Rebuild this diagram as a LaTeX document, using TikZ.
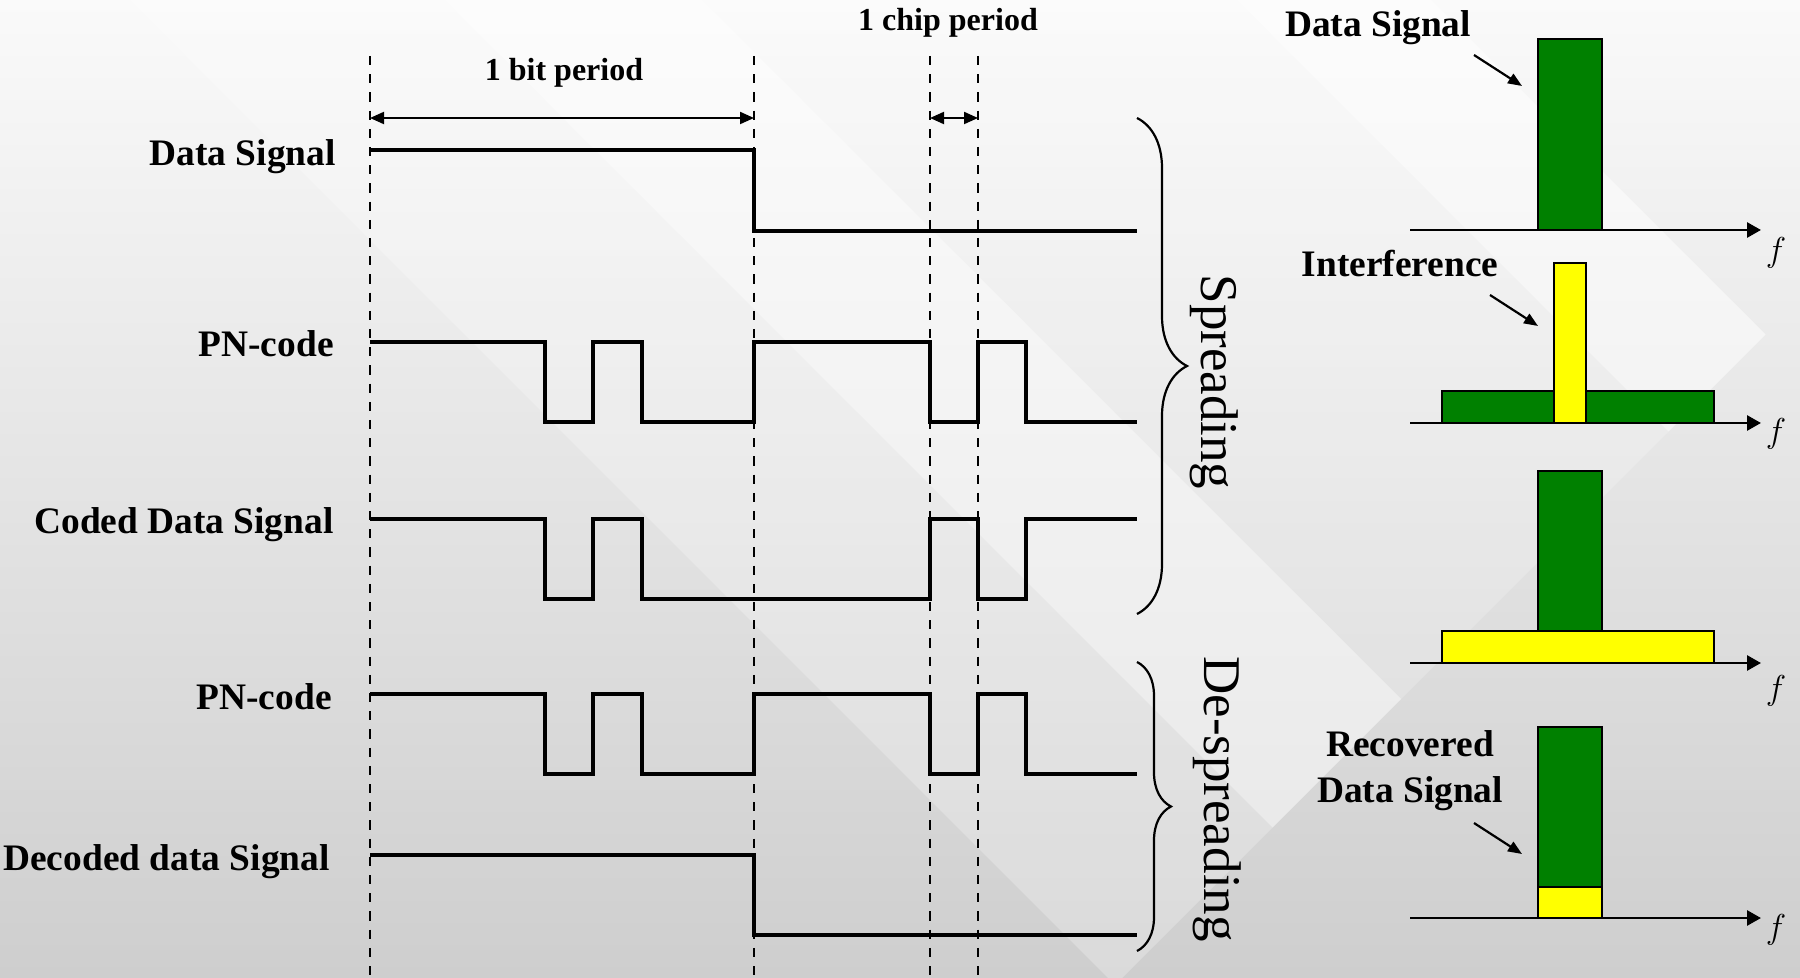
\documentclass[tikz,border=0pt]{standalone}
\usepackage{fontspec}
\setmainfont{Liberation Serif}
\usetikzlibrary{arrows.meta,positioning,decorations.pathreplacing}
\definecolor{sgreen}{RGB}{0,128,0}
\definecolor{syellow}{RGB}{255,255,0}
\definecolor{bgtop}{RGB}{250,250,250}
\definecolor{bgbot}{RGB}{206,206,206}

\begin{document}
\begin{tikzpicture}[
  x=0.5pt, y=0.5pt,
  wave/.style={line width=1.9pt, line join=miter},
  guide/.style={line width=1.2pt, dash pattern=on 4.6pt off 4.5pt},
  span/.style={{Triangle[length=7pt,width=6pt]}-{Triangle[length=7pt,width=6pt]}, line width=1pt},
  lbl/.style={font=\bfseries\fontsize{18.7}{21}\selectfont, inner sep=0pt},
  tag/.style={font=\bfseries\fontsize{16}{18}\selectfont, inner sep=0pt, anchor=base},
  phase/.style={font=\fontsize{26.5}{30}\selectfont, inner sep=0pt, rotate=-90, anchor=base},
  axis/.style={-{Triangle[length=7pt,width=7.5pt]}, line width=1.4pt},
  ptr/.style={-{Triangle[length=7pt,width=5.5pt]}, line width=1.1pt},
  gbar/.style={draw=black, line width=1pt, fill=sgreen},
  ybar/.style={draw=black, line width=1pt, fill=syellow},
  brc/.style={decorate, line width=1.1pt}
]
\useasboundingbox (0,0) rectangle (1800,-978);

% background
\shade[top color=bgtop, bottom color=bgbot] (0,0) rectangle (1800,-978);
\begin{scope}
  \clip (0,0) -- (1800,0) -- (1800,-300) -- (1122,-978) -- (0,-978) -- cycle;
  \fill[white, opacity=0.25] (130,0) -- (445,0) -- (1445,-1000) -- (1130,-1000) -- cycle;
  \fill[white, opacity=0.5] (445,0) -- (702,0) -- (1702,-1000) -- (1445,-1000) -- cycle;
  \fill[white, opacity=0.2] (702,0) -- (1237,0) -- (2237,-1000) -- (1702,-1000) -- cycle;
  \fill[white, opacity=0.5] (1237,0) -- (1431,0) -- (2431,-1000) -- (2237,-1000) -- cycle;
\end{scope}

% time grid
\foreach \gx in {370,754,930,978}
  \draw[guide] (\gx,-56) -- (\gx,-978);

\coordinate (bitL) at (370,-118);
\coordinate (bitR) at (754,-118);
\coordinate (chipL) at (930,-118);
\coordinate (chipR) at (978,-118);
\draw[span] (bitL) -- (bitR);
\draw[span] (chipL) -- (chipR);
\node[tag] (bitlbl) at (564,-81) {1 bit period};
\node[tag] (chiplbl) at (948,-31) {1 chip period};

% waveforms
\node[lbl, anchor=base east] (lds) at (336,-166) {Data Signal};
\draw[wave] (370,-150) -- (754,-150) -- (754,-231) -- (1137,-231);

\node[lbl, anchor=base east] (lpn) at (334,-357) {PN-code};
\draw[wave] (370,-342) -- (545,-342) -- (545,-422) -- (593,-422) -- (593,-342)
  -- (642,-342) -- (642,-422) -- (754,-422) -- (754,-342) -- (930,-342)
  -- (930,-422) -- (978,-422) -- (978,-342) -- (1026,-342) -- (1026,-422) -- (1137,-422);

\node[lbl, anchor=base east] (lcds) at (334,-534) {Coded Data Signal};
\draw[wave] (370,-519) -- (545,-519) -- (545,-599) -- (593,-599) -- (593,-519)
  -- (642,-519) -- (642,-599) -- (930,-599) -- (930,-519) -- (978,-519)
  -- (978,-599) -- (1026,-599) -- (1026,-519) -- (1137,-519);

\node[lbl, anchor=base east] (lpnb) at (332,-709) {PN-code};
\draw[wave] (370,-694) -- (545,-694) -- (545,-774) -- (593,-774) -- (593,-694)
  -- (642,-694) -- (642,-774) -- (754,-774) -- (754,-694) -- (930,-694)
  -- (930,-774) -- (978,-774) -- (978,-694) -- (1026,-694) -- (1026,-774) -- (1137,-774);

\node[lbl, anchor=base east] (ldds) at (330,-870) {Decoded data Signal};
\draw[wave] (370,-855) -- (754,-855) -- (754,-935) -- (1137,-935);

% braces
\draw[brc, decoration={brace, amplitude=25pt}] (1137,-118) -- (1137,-614);
\node[phase] (spr) at (1201,-382) {Spreading};
\draw[brc, decoration={brace, amplitude=17pt}] (1137,-662) -- (1137,-951);
\node[phase] (despr) at (1204,-799) {De-spreading};

% spectra
\draw[gbar] (1538,-39) rectangle (1602,-230);
\draw[gbar] (1442,-391) rectangle (1714,-423);
\draw[ybar] (1554,-263) rectangle (1586,-423);
\draw[ybar] (1442,-631) rectangle (1714,-663);
\draw[gbar] (1538,-471) rectangle (1602,-631);
\draw[gbar] (1538,-727) rectangle (1602,-887);
\draw[ybar] (1538,-887) rectangle (1602,-918);

\foreach \ay/\fy [count=\k] in {230/253, 423/434, 663/691, 918/930} {
  \draw[axis] (1410,-\ay) -- (1761,-\ay);
  \node[font=\fontsize{16}{18}\selectfont, inner sep=0pt] (f\k) at (1776,-\fy) {$f$};
}

\node[lbl, anchor=base] (rds) at (1378,-37) {Data Signal};
\node[lbl, anchor=base] (rif) at (1400,-277) {Interference};
\node[lbl, anchor=base] (rrec) at (1410,-756) {Recovered};
\node[lbl, anchor=base] (rrds) at (1410,-802) {Data Signal};

\coordinate (p1a) at (1474,-55);  \coordinate (p1b) at (1522,-86);
\coordinate (p2a) at (1490,-295); \coordinate (p2b) at (1538,-326);
\coordinate (p3a) at (1474,-823); \coordinate (p3b) at (1522,-854);
\draw[ptr] (p1a) -- (p1b);
\draw[ptr] (p2a) -- (p2b);
\draw[ptr] (p3a) -- (p3b);
\end{tikzpicture}
\end{document}
